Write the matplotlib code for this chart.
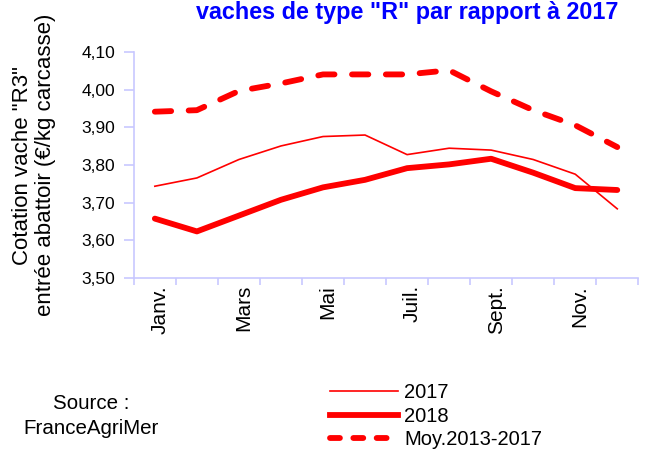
import numpy as np
import matplotlib
matplotlib.use('Agg')
import matplotlib.pyplot as plt
import matplotlib.transforms as mtransforms
from matplotlib.lines import Line2D

plt.rcParams['font.family'] = ['Liberation Sans', 'DejaVu Sans']

# Données
mois = ['Janv.', 'Févr.', 'Mars', 'Avr.', 'Mai', 'Juin',
        'Juil.', 'Août', 'Sept.', 'Oct.', 'Nov.', 'Déc.']
cot_2017 = [3.744, 3.766, 3.815, 3.851, 3.876, 3.880,
            3.828, 3.845, 3.840, 3.815, 3.776, 3.684]
cot_2018 = [3.658, 3.624, 3.666, 3.708, 3.741, 3.761,
            3.792, 3.802, 3.817, 3.780, 3.739, 3.734]
moy_13_17 = [3.942, 3.946, 3.997, 4.017, 4.041, 4.041,
             4.041, 4.052, 3.996, 3.946, 3.906, 3.848]
yticks = [3.50, 3.60, 3.70, 3.80, 3.90, 4.00, 4.10]

rouge = '#ff0000'
axe = '#c8c8ff'

fig = plt.figure(figsize=(6.56, 4.5), dpi=100)
ax = fig.add_axes([0.204, 0.382, 0.769, 0.502])

x = np.arange(len(mois))
ax.plot(x, cot_2017, color=rouge, lw=1.2, label='2017')
ax.plot(x, cot_2018, color=rouge, lw=4.2, solid_capstyle='round',
        solid_joinstyle='round', label='2018')
ax.plot(x, moy_13_17, color=rouge, lw=4.2, dashes=(2.8, 3.0),
        dash_capstyle='round', label='Moy.2013-2017')

ax.set_xlim(-0.5, len(mois) - 0.5)
ax.set_ylim(3.50, 4.10)
ax.set_yticks(yticks)
ax.set_yticklabels([f'{v:.2f}'.replace('.', ',') for v in yticks], fontsize=12.5)

# ticks aux frontières des mois, étiquettes un mois sur deux
ax.set_xticks(np.arange(-0.5, len(mois), 1.0))
ax.set_xticklabels([])
ax.set_xticks(x[::2], minor=True)
ax.set_xticklabels(mois[::2], minor=True, rotation=90, fontsize=15, va='top')
ax.tick_params(axis='x', which='minor', length=0, pad=5)
ax.tick_params(axis='x', which='major', length=5, color=axe, width=1.2)
ax.tick_params(axis='y', length=7, color=axe, width=1.2, pad=6.5)
offset = mtransforms.ScaledTranslation(5 / 100, 0, fig.dpi_scale_trans)
for lab in ax.xaxis.get_minorticklabels():
    lab.set_transform(lab.get_transform() + offset)

for s in ['top', 'right']:
    ax.spines[s].set_visible(False)
for s in ['left', 'bottom']:
    ax.spines[s].set_color(axe)
    ax.spines[s].set_linewidth(1.2)

fig.text(0.052, 0.633, 'Cotation vache "R3"\nentrée abattoir (€/kg carcasse)',
         rotation=90, ha='center', va='center', multialignment='center',
         fontsize=16, linespacing=1.08)

fig.text(0.621, 0.973, 'vaches de type "R" par rapport à 2017', color='#0000ff',
         fontsize=16.8, fontweight='bold', ha='center', va='center')

fig.text(0.139, 0.076, 'Source :\nFranceAgriMer', ha='center', va='center',
         fontsize=14.8, linespacing=1.38)

handles = [Line2D([], [], color=rouge, lw=1.2),
           Line2D([], [], color=rouge, lw=4.2),
           Line2D([], [], color=rouge, lw=4.2, dashes=(1.7, 2.3), dash_capstyle='round')]
fig.legend(handles, ['2017', '2018', 'Moy.2013-2017'], loc='upper left',
           bbox_to_anchor=(0.503, 0.148), frameon=False, fontsize=14.5,
           handlelength=3.4, handletextpad=0.28, labelspacing=0.22,
           borderaxespad=0, borderpad=0)

fig.savefig('out.png', dpi=100)
